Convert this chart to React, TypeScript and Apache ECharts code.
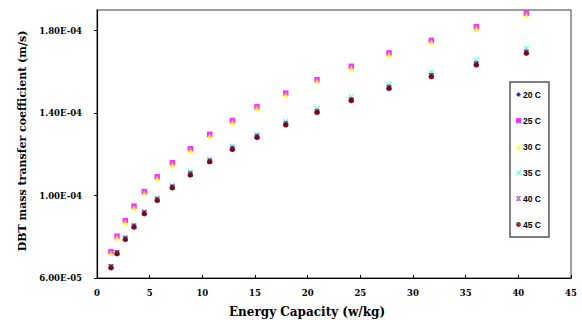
import React, { useEffect, useRef } from "react";
import * as echarts from "echarts";

const energy = [1.33, 1.9, 2.69, 3.51, 4.49, 5.72, 7.15, 8.86, 10.7, 12.85, 15.19, 17.92, 20.89, 24.14, 27.72, 31.74, 36.01, 40.76];
const k20 = [6.51e-5, 7.19e-5, 7.88e-5, 8.48e-5, 9.13e-5, 9.78e-5, 10.39e-5, 11.01e-5, 11.65e-5, 12.25e-5, 12.83e-5, 13.44e-5, 14.05e-5, 14.62e-5, 15.21e-5, 15.78e-5, 16.35e-5, 16.92e-5];
const k25 = [7.28e-5, 8.03e-5, 8.78e-5, 9.49e-5, 10.19e-5, 10.91e-5, 11.59e-5, 12.27e-5, 12.97e-5, 13.64e-5, 14.31e-5, 14.97e-5, 15.62e-5, 16.27e-5, 16.92e-5, 17.53e-5, 18.19e-5, 18.84e-5];
const k30 = [7.2e-5, 7.95e-5, 8.7e-5, 9.41e-5, 10.11e-5, 10.83e-5, 11.51e-5, 12.19e-5, 12.89e-5, 13.56e-5, 14.23e-5, 14.89e-5, 15.54e-5, 16.19e-5, 16.84e-5, 17.45e-5, 18.11e-5, 18.76e-5];
const k35 = [6.56e-5, 7.25e-5, 7.95e-5, 8.56e-5, 9.22e-5, 9.88e-5, 10.5e-5, 11.13e-5, 11.78e-5, 12.39e-5, 12.98e-5, 13.6e-5, 14.22e-5, 14.8e-5, 15.4e-5, 15.98e-5, 16.56e-5, 17.14e-5];
const k40 = [6.54e-5, 7.22e-5, 7.91e-5, 8.51e-5, 9.16e-5, 9.81e-5, 10.42e-5, 11.04e-5, 11.68e-5, 12.28e-5, 12.86e-5, 13.47e-5, 14.08e-5, 14.65e-5, 15.24e-5, 15.81e-5, 16.38e-5, 16.95e-5];
const k45 = [6.5e-5, 7.18e-5, 7.87e-5, 8.47e-5, 9.12e-5, 9.77e-5, 10.38e-5, 11.0e-5, 11.64e-5, 12.24e-5, 12.82e-5, 13.43e-5, 14.04e-5, 14.61e-5, 15.2e-5, 15.77e-5, 16.34e-5, 16.91e-5];
const seriesNames = ["20 C", "25 C", "30 C", "35 C", "40 C", "45 C"];
const yTicks = [6e-5, 1e-4, 1.4e-4, 1.8e-4];
const xTicks = [0, 5, 10, 15, 20, 25, 30, 35, 40, 45];

const X_SYM = "path://M0,1.2L1.2,0L5,3.8L8.8,0L10,1.2L6.2,5L10,8.8L8.8,10L5,6.2L1.2,10L0,8.8L3.8,5Z";
const STAR_SYM =
  "path://M0,1.2L1.2,0L5,3.8L8.8,0L10,1.2L6.2,5L10,8.8L8.8,10L5,6.2L1.2,10L0,8.8L3.8,5ZM2,0L8,0L8,1.2L2,1.2ZM2,8.8L8,8.8L8,10L2,10Z";

function fmtSci(v: number): string {
  if (v === 0) return "0";
  const exp = Math.floor(Math.log10(Math.abs(v)) + 1e-9);
  const mant = v / Math.pow(10, exp);
  const sign = exp < 0 ? "-" : "+";
  const e = Math.abs(exp).toString().padStart(2, "0");
  return mant.toFixed(2) + "E" + sign + e;
}

export default function App() {
  const ref = useRef<HTMLDivElement>(null);
  useEffect(() => {
    if (!ref.current) return;
    const chart = echarts.init(ref.current, null, { renderer: "svg" });
    const dataSets = [k20, k25, k30, k35, k40, k45];
    const colors = ["#000080", "#FF00FF", "#FFFF00", "#00FFFF", "#800080", "#800000"];
    const symbols = ["diamond", "rect", "triangle", X_SYM, STAR_SYM, "circle"];
    const sizes = [5.5, 5.5, 5.5, 5.5, 5.5, 5.5];
    const labelFont = "'DejaVu Serif', serif";
    chart.setOption({
      animation: false,
      backgroundColor: "#ffffff",
      grid: {
        left: 97,
        right: 11,
        top: 10,
        bottom: 42,
        show: true,
        borderColor: "#808080",
        borderWidth: 1.5,
      },
      legend: {
        orient: "vertical",
        left: 510,
        top: 82,
        itemWidth: 5,
        itemHeight: 5,
        itemGap: 17,
        padding: [8, 8, 8, 6],
        borderColor: "#555555",
        borderWidth: 1.5,
        backgroundColor: "#ffffff",
        textStyle: {
          fontFamily: "'Liberation Sans', Arial, sans-serif",
          fontWeight: "bold",
          fontSize: 8.5,
          color: "#000",
          padding: [0, 0, 0, -3],
        },
        data: seriesNames.map((n, i) => ({ name: n, icon: symbols[i] })),
      },
      xAxis: {
        type: "value",
        min: 0,
        max: 45,
        interval: 5,
        axisLine: { lineStyle: { color: "#000", width: 1.2 } },
        axisTick: { show: true, inside: true, length: 3, lineStyle: { color: "#000" } },
        splitLine: { show: false },
        axisLabel: {
          customValues: xTicks,
          fontFamily: labelFont,
          fontWeight: "bold",
          fontSize: 8.5,
          color: "#000",
          margin: 10,
        },
      },
      yAxis: {
        type: "value",
        min: 6e-5,
        max: 1.9e-4,
        axisLine: { show: true, lineStyle: { color: "#000", width: 1.2 } },
        axisTick: { show: true, customValues: yTicks, length: 3, lineStyle: { color: "#000" } },
        splitLine: { show: false },
        axisLabel: {
          customValues: yTicks,
          formatter: (v: number) => fmtSci(v),
          fontFamily: labelFont,
          fontWeight: "bold",
          fontSize: 8.5,
          color: "#000",
          margin: 15,
        },
      },
      graphic: [
        {
          type: "text",
          x: 307,
          y: 312,
          style: {
            text: "Energy Capacity (w/kg)",
            fontFamily: labelFont,
            fontWeight: "bold",
            fontSize: 12,
            fill: "#000",
            textAlign: "center",
            textVerticalAlign: "middle",
          },
        },
        {
          type: "text",
          x: 22,
          y: 141,
          rotation: Math.PI / 2,
          style: {
            text: "DBT mass transfer coefficient (m/s)",
            fontFamily: labelFont,
            fontWeight: "bold",
            fontSize: 11,
            fill: "#000",
            textAlign: "center",
            textVerticalAlign: "middle",
          },
        },
      ],
      series: seriesNames.map((n, i) => ({
        name: n,
        type: "scatter",
        symbol: symbols[i],
        symbolSize: sizes[i],
        itemStyle: { color: colors[i] },
        data: energy.map((x, j) => [x, dataSets[i][j]]),
      })),
    });
    return () => chart.dispose();
  }, []);
  return <div ref={ref} style={{ position: "absolute", left: 0, top: 0, width: 582, height: 320 }} />;
}
